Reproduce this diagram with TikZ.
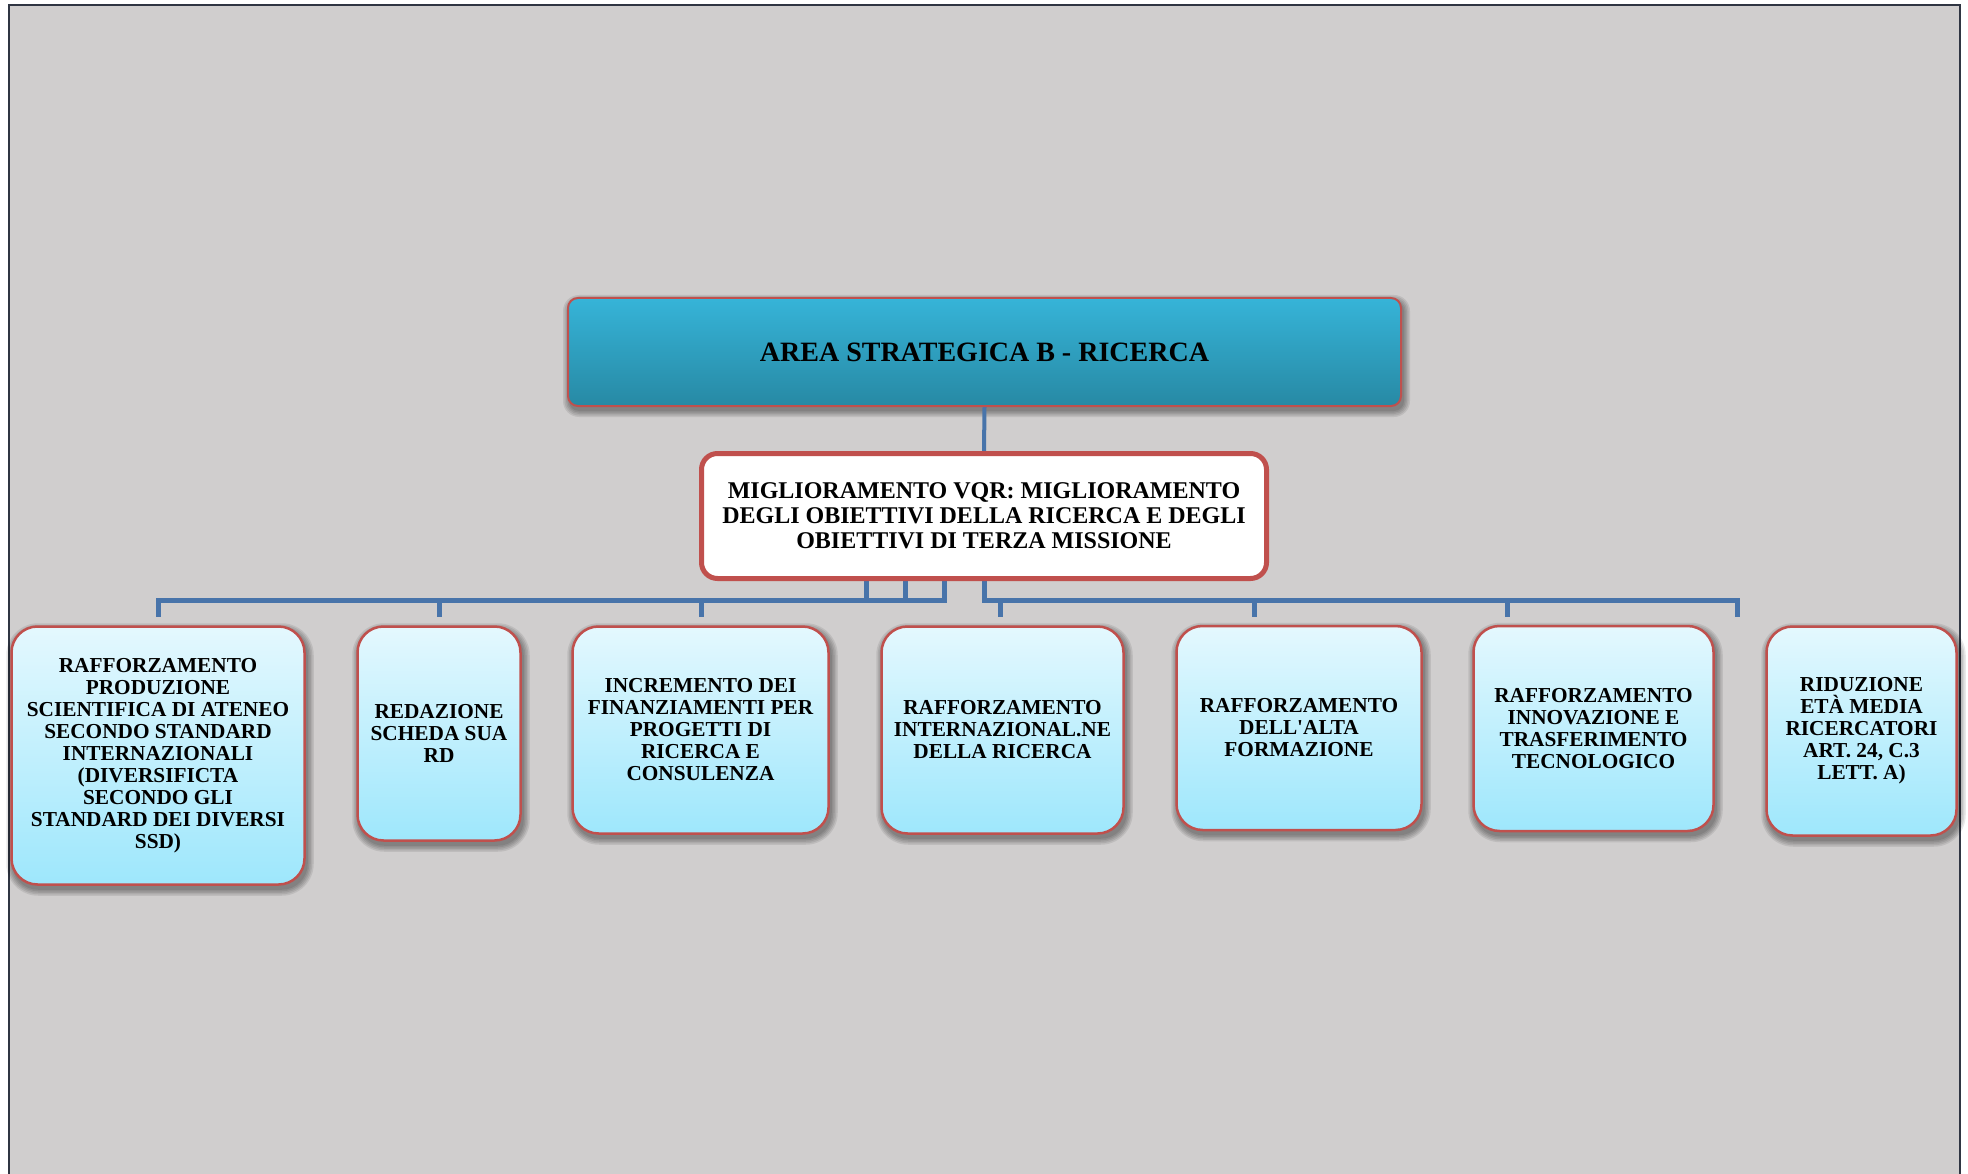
\documentclass[tikz,border=0pt]{standalone}
\usepackage{fontspec}
\setmainfont{Liberation Serif}
\usetikzlibrary{backgrounds,calc}

\definecolor{canvasgray}{RGB}{208,206,206}
\definecolor{framedark}{RGB}{47,53,66}
\definecolor{busblue}{RGB}{72,116,170}
\definecolor{boxred}{RGB}{192,80,77}
\definecolor{headtop}{RGB}{54,180,216}
\definecolor{headbot}{RGB}{39,137,164}
\definecolor{childtop}{RGB}{228,248,254}
\definecolor{childbot}{RGB}{158,231,252}

\tikzset{
  headbox/.style={draw=boxred, line width=2pt, rounded corners=10pt,
      top color=headtop, bottom color=headbot, align=center,
      inner sep=0pt, font=\fontsize{28}{30}\selectfont\bfseries},
  midbox/.style={draw=boxred, line width=5pt, rounded corners=16pt,
      fill=white, align=center, inner sep=0pt,
      font=\fontsize{24}{25}\selectfont\bfseries},
  childbox/.style={draw=boxred, line width=2.5pt, rounded corners=26pt,
      top color=childtop, bottom color=childbot, align=center,
      inner sep=0pt, font=\fontsize{21.3}{22}\selectfont\bfseries},
  bus/.style={draw=busblue, line width=5pt, line join=miter},
  shadowlayer/.style={fill=black, opacity=0.085},
}

% soft shadow under a node: #1 node name, #2 corner radius in pt
\newcommand{\softshadow}[2]{%
  \foreach \g in {0,1.5,3,4.5,6}{%
    \fill[shadowlayer, rounded corners={#2pt+\g pt}]
      ($(#1.south west)+(2-\g,4+\g)$) rectangle ($(#1.north east)+(2+\g,4-\g)$);
  }%
}

\begin{document}
\begin{tikzpicture}[x=1pt,y=-1pt]
\useasboundingbox (0,0) rectangle (1968,1174);

% page and frame, kept underneath everything else
\begin{pgfonlayer}{background}
  \fill[white] (0,0) rectangle (1968,1174);
  \fill[canvasgray] (9,5) rectangle (1960,1174);
  \draw[framedark, line width=2.5pt] (9,1174) -- (9,5) -- (1960,5) -- (1960,1174);
\end{pgfonlayer}

% strategic area and objective
\node[headbox, minimum width=833pt, minimum height=108pt] (head) at (984.5,352)
  {AREA STRATEGICA B - RICERCA};
\node[midbox, minimum width=565pt, minimum height=125pt] (mid) at (984,516)
  {MIGLIORAMENTO VQR: MIGLIORAMENTO\\DEGLI OBIETTIVI DELLA RICERCA E DEGLI\\OBIETTIVI DI TERZA MISSIONE};

% actions
\node[childbox, minimum width=293pt, minimum height=258pt] (c1) at (158,755.5)
  {RAFFORZAMENTO\\PRODUZIONE\\SCIENTIFICA DI ATENEO\\SECONDO STANDARD\\INTERNAZIONALI\\(DIVERSIFICTA\\SECONDO GLI\\STANDARD DEI DIVERSI\\SSD)};
\node[childbox, minimum width=163pt, minimum height=214pt] (c2) at (439,733.5)
  {REDAZIONE\\SCHEDA SUA\\RD};
\node[childbox, minimum width=256pt, minimum height=207pt] (c3) at (700.5,730)
  {INCREMENTO DEI\\FINANZIAMENTI PER\\PROGETTI DI\\RICERCA E\\CONSULENZA};
\node[childbox, minimum width=242pt, minimum height=207pt] (c4) at (1002.5,730)
  {RAFFORZAMENTO\\INTERNAZIONAL.NE\\DELLA RICERCA};
\node[childbox, minimum width=245pt, minimum height=204pt] (c5) at (1299,728)
  {RAFFORZAMENTO\\DELL\textquotesingle ALTA\\FORMAZIONE};
\node[childbox, minimum width=240pt, minimum height=205pt] (c6) at (1593.5,728.5)
  {RAFFORZAMENTO\\INNOVAZIONE E\\TRASFERIMENTO\\TECNOLOGICO};
\node[childbox, minimum width=190pt, minimum height=209pt] (c7) at (1861.5,731)
  {RIDUZIONE\\ETÀ MEDIA\\RICERCATORI\\ART. 24, C.3\\LETT. A)};

% shadows behind the boxes
\begin{pgfonlayer}{background}
  \softshadow{head}{10}
  \foreach \n in {c1,c2,c3,c4,c5,c6,c7}{\softshadow{\n}{26}}
\end{pgfonlayer}

% bus joints and drop ends
\coordinate (sA) at (866,600);
\coordinate (sB) at (905,600);
\coordinate (sC) at (944,600);
\coordinate (sD) at (984,600);
\coordinate (dA) at (158,617);
\coordinate (dB) at (439,617);
\coordinate (dC) at (701,617);
\coordinate (dD) at (1000,617);
\coordinate (dE) at (1254,617);
\coordinate (dF) at (1507,617);
\coordinate (dG) at (1737,617);

% connectors, drawn behind the boxes
\begin{pgfonlayer}{background}
  \draw[bus, line width=4pt] (head.south) -- (mid.north);
  \draw[bus] (mid.south -| sA) -- (sA);
  \draw[bus] (mid.south -| sB) -- (sB);
  \draw[bus] (mid.south -| sC) -- (sC) -- (sC -| dA) -- (dA);
  \draw[bus] (sC -| dB) -- (dB);
  \draw[bus] (sC -| dC) -- (dC);
  \draw[bus] (mid.south -| sD) -- (sD) -- (sD -| dG) -- (dG);
  \draw[bus] (sD -| dD) -- (dD);
  \draw[bus] (sD -| dE) -- (dE);
  \draw[bus] (sD -| dF) -- (dF);
\end{pgfonlayer}
\end{tikzpicture}
\end{document}
